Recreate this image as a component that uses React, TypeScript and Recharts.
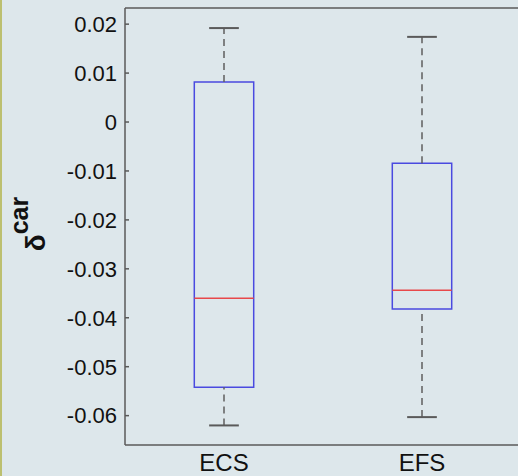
import React from "react";
import {
  ComposedChart,
  XAxis,
  YAxis,
  ReferenceArea,
  ReferenceLine,
} from "recharts";

// box plot stats
const categories = ["ECS", "EFS"];
const whiskerLow = [-0.0620, -0.0603];
const q1 = [-0.0542, -0.0382];
const median = [-0.0360, -0.0344];
const q3 = [0.0082, -0.0084];
const whiskerHigh = [0.0192, 0.0174];
const yTicks = [-0.06, -0.05, -0.04, -0.03, -0.02, -0.01, 0, 0.01, 0.02];

const Y_MIN = -0.066;
const Y_MAX = 0.0233;
const BOX_HALF = 0.15;
const CAP_HALF = 0.075;
const AXIS_COLOR = "#5a5a5a";
const FONT = "'Liberation Sans', Arial, Helvetica, sans-serif";

function fmt(v: number) {
  if (Math.abs(v) < 1e-9) return "0";
  return v.toFixed(2);
}

function YLabel() {
  return (
    <text
      transform="translate(45,224) rotate(-90)"
      textAnchor="middle"
      fontFamily={FONT}
      fontWeight="bold"
      fill="#111"
      fontSize={26}
    >
      <tspan fontSize={28}>δ</tspan>
      <tspan fontSize={25} dy={-17}>
        car
      </tspan>
    </text>
  );
}

export default function App() {
  return (
    <div
      style={{
        position: "fixed",
        left: 0,
        top: 0,
        width: 518,
        height: 476,
        overflow: "hidden",
        background: "#dde7eb",
      }}
    >
      <div
        style={{
          position: "absolute",
          left: 0,
          top: 0,
          width: 2,
          height: 476,
          background: "#bcc070",
        }}
      />
      <ComposedChart
        width={530}
        height={476}
        margin={{ top: 8, right: 0, bottom: 0, left: 0 }}
        data={categories.map((c, i) => ({ x: i + 1, m: median[i] }))}
      >
        <XAxis
          xAxisId="b"
          type="number"
          dataKey="x"
          domain={[0.5, 2.5]}
          ticks={[1, 2]}
          tickFormatter={(v: number) => categories[v - 1]}
          height={31}
          axisLine={{ stroke: AXIS_COLOR, strokeWidth: 1.5 }}
          tickLine={false}
          tickMargin={3}
          tick={{ fill: "#111", fontSize: 24, fontFamily: FONT }}
        />
        <YAxis
          yAxisId="l"
          type="number"
          domain={[Y_MIN, Y_MAX]}
          allowDataOverflow
          ticks={yTicks}
          tickFormatter={fmt}
          width={125}
          axisLine={{ stroke: AXIS_COLOR, strokeWidth: 1.5 }}
          tickLine={{ stroke: AXIS_COLOR, strokeWidth: 1.5 }}
          tickSize={-4}
          tickMargin={12}
          tick={{ fill: "#111", fontSize: 22, fontFamily: FONT }}
          label={<YLabel />}
        />
        <YAxis
          yAxisId="r"
          orientation="right"
          type="number"
          domain={[Y_MIN, Y_MAX]}
          allowDataOverflow
          ticks={yTicks}
          width={9}
          tick={false}
          axisLine={{ stroke: AXIS_COLOR, strokeWidth: 1.5 }}
          tickLine={{ stroke: AXIS_COLOR, strokeWidth: 1.5 }}
          tickSize={-4}
        />
        <ReferenceLine
          xAxisId="b"
          yAxisId="l"
          y={Y_MAX}
          stroke={AXIS_COLOR}
          strokeWidth={1.5}
        />
        {categories.map((c, i) => {
          const x = i + 1;
          return (
            <React.Fragment key={c}>
              <ReferenceLine
                xAxisId="b"
                yAxisId="l"
                segment={[
                  { x, y: q3[i] },
                  { x, y: whiskerHigh[i] },
                ]}
                stroke="#5f5f5f"
                strokeWidth={1.5}
                strokeDasharray="7 5"
              />
              <ReferenceLine
                xAxisId="b"
                yAxisId="l"
                segment={[
                  { x, y: whiskerLow[i] },
                  { x, y: q1[i] },
                ]}
                stroke="#5f5f5f"
                strokeWidth={1.5}
                strokeDasharray="7 5"
              />
              <ReferenceLine
                xAxisId="b"
                yAxisId="l"
                segment={[
                  { x: x - CAP_HALF, y: whiskerHigh[i] },
                  { x: x + CAP_HALF, y: whiskerHigh[i] },
                ]}
                stroke="#5a5a5a"
                strokeWidth={2}
              />
              <ReferenceLine
                xAxisId="b"
                yAxisId="l"
                segment={[
                  { x: x - CAP_HALF, y: whiskerLow[i] },
                  { x: x + CAP_HALF, y: whiskerLow[i] },
                ]}
                stroke="#5a5a5a"
                strokeWidth={2}
              />
              <ReferenceArea
                xAxisId="b"
                yAxisId="l"
                x1={x - BOX_HALF}
                x2={x + BOX_HALF}
                y1={q1[i]}
                y2={q3[i]}
                fill="none"
                fillOpacity={0}
                stroke="#4a4ae0"
                strokeWidth={1.5}
              />
              <ReferenceLine
                xAxisId="b"
                yAxisId="l"
                segment={[
                  { x: x - BOX_HALF, y: median[i] },
                  { x: x + BOX_HALF, y: median[i] },
                ]}
                stroke="#e8484a"
                strokeWidth={1.5}
              />
            </React.Fragment>
          );
        })}
      </ComposedChart>
    </div>
  );
}
